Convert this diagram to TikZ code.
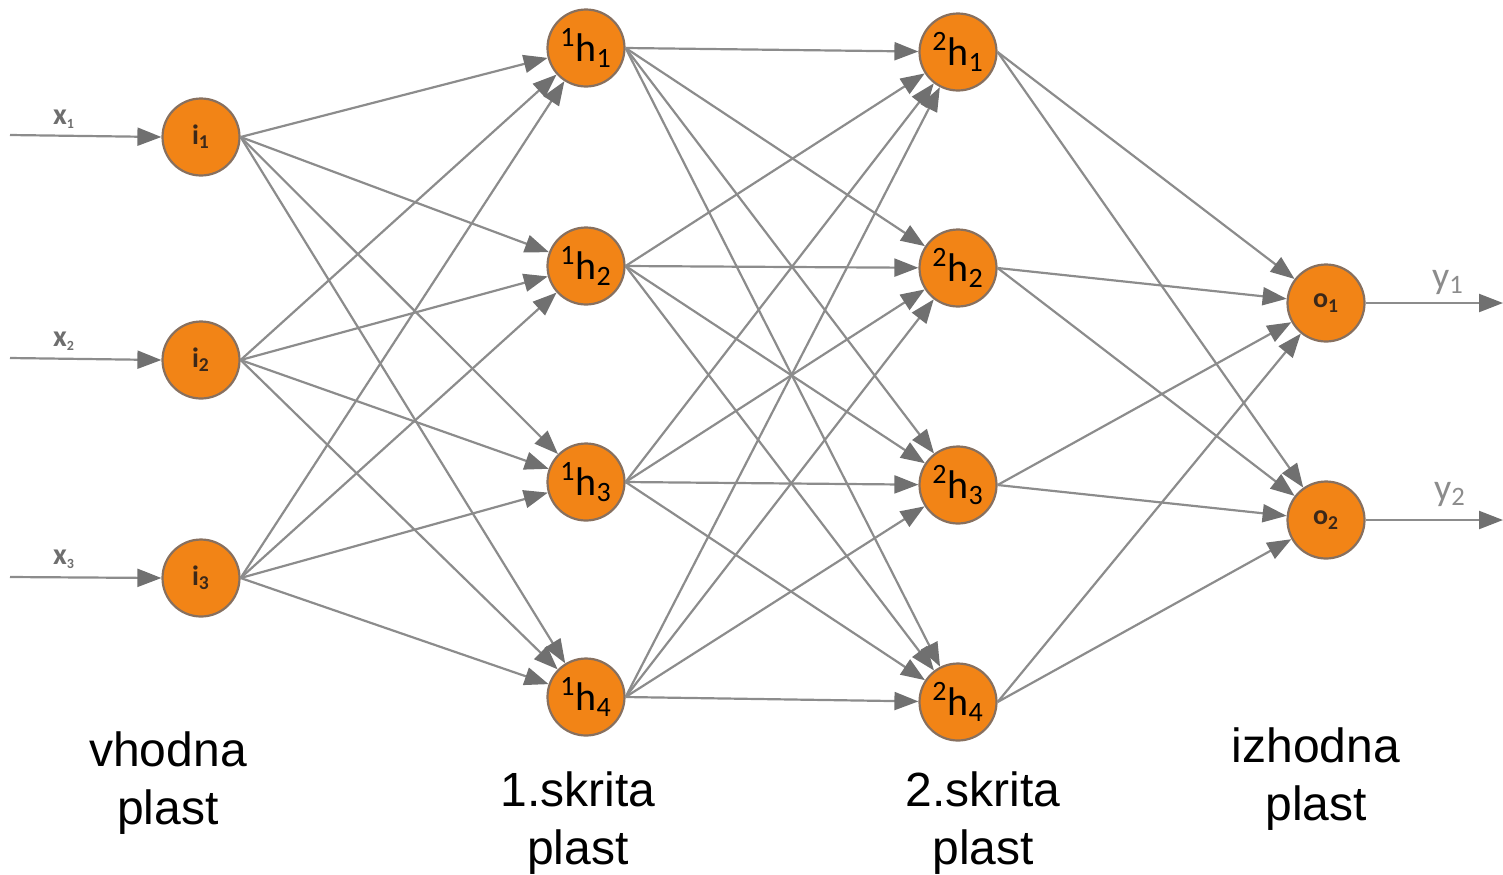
\documentclass[tikz,border=0pt]{standalone}
\usepackage{fontspec}
\setmainfont{Liberation Sans}
\newfontfamily\nodefont{Carlito}
\usetikzlibrary{arrows.meta}
\definecolor{neuronfill}{RGB}{242,132,22}
\definecolor{neuronrim}{RGB}{135,112,95}
\definecolor{wirecol}{RGB}{140,140,140}
\definecolor{tipcol}{RGB}{112,112,112}
\definecolor{inkdark}{RGB}{60,40,25}
\definecolor{siggray}{RGB}{110,110,110}

\begin{document}
\begin{tikzpicture}[x=0.5pt,y=-0.5pt,
  neuron/.style={circle,fill=neuronfill,draw=neuronrim,line width=1.1pt,
    minimum size=38.5pt,inner sep=0pt},
  hidlabel/.style={font=\nodefont\fontsize{20}{20}\selectfont},
  inlabel/.style={font=\nodefont\bfseries\fontsize{14}{14}\selectfont,text=inkdark},
  wire/.style={draw=wirecol,line width=1.1pt,
    -{Triangle[length=12pt,width=9pt,color=tipcol]}},
  xsig/.style={text=siggray,font=\nodefont\bfseries\fontsize{15}{15}\selectfont},
  ysig/.style={text=wirecol,font=\nodefont\fontsize{19}{19}\selectfont},
  layer/.style={align=center,inner sep=0pt,
    font=\fontsize{24}{29}\selectfont}]
\useasboundingbox (0,0) rectangle (1503,874);

% input layer
\node[neuron,inlabel] (i1) at (201,137) {i\textsubscript{1}};
\node[neuron,inlabel] (i2) at (201,360) {i\textsubscript{2}};
\node[neuron,inlabel] (i3) at (201,578) {i\textsubscript{3}};

% first hidden layer
\foreach \k/\y in {1/48,2/266,3/482,4/697}
  \node[neuron,hidlabel] (ha\k) at (586,\y) {\textsuperscript{1}h\textsubscript{\k}};

% second hidden layer
\foreach \k/\y in {1/52,2/268,3/485,4/702}
  \node[neuron,hidlabel] (hb\k) at (958,\y) {\textsuperscript{2}h\textsubscript{\k}};

% output layer
\node[neuron,inlabel] (o1) at (1326,303) {o\textsubscript{1}};
\node[neuron,inlabel] (o2) at (1326,520) {o\textsubscript{2}};

% input signals
\coordinate (s1) at (10,135);
\coordinate (s2) at (10,358);
\coordinate (s3) at (10,577);
\foreach \k in {1,2,3}
  \draw[wire] (s\k) -- (i\k.west);
\node[xsig] (x1) at (64,119) {x\textsubscript{\scriptsize 1}};
\node[xsig] (x2) at (64,341) {x\textsubscript{\scriptsize 2}};
\node[xsig] (x3) at (64,559) {x\textsubscript{\scriptsize 3}};

% output signals
\coordinate (t1) at (1503,303);
\coordinate (t2) at (1503,520);
\foreach \k in {1,2}
  \draw[wire] (o\k.east) -- (t\k);
\node[ysig] (y1) at (1448,282) {y\textsubscript{1}};
\node[ysig] (y2) at (1450,494) {y\textsubscript{2}};

% full connections between layers
\foreach \a in {1,2,3}
  \foreach \b in {1,2,3,4}
    \draw[wire] (i\a.east) -- (ha\b);
\foreach \a in {1,2,3,4}
  \foreach \b in {1,2,3,4}
    \draw[wire] (ha\a.east) -- (hb\b);
\foreach \a in {1,2,3,4}
  \foreach \b in {1,2}
    \draw[wire] (hb\a.east) -- (o\b);

% layer captions
\node[layer] (c1) at (168,783) {vhodna\\plast};
\node[layer] (c2) at (578,823) {1.skrita\\plast};
\node[layer] (c3) at (983,823) {2.skrita\\plast};
\node[layer] (c4) at (1316,779) {izhodna\\plast};
\end{tikzpicture}
\end{document}
